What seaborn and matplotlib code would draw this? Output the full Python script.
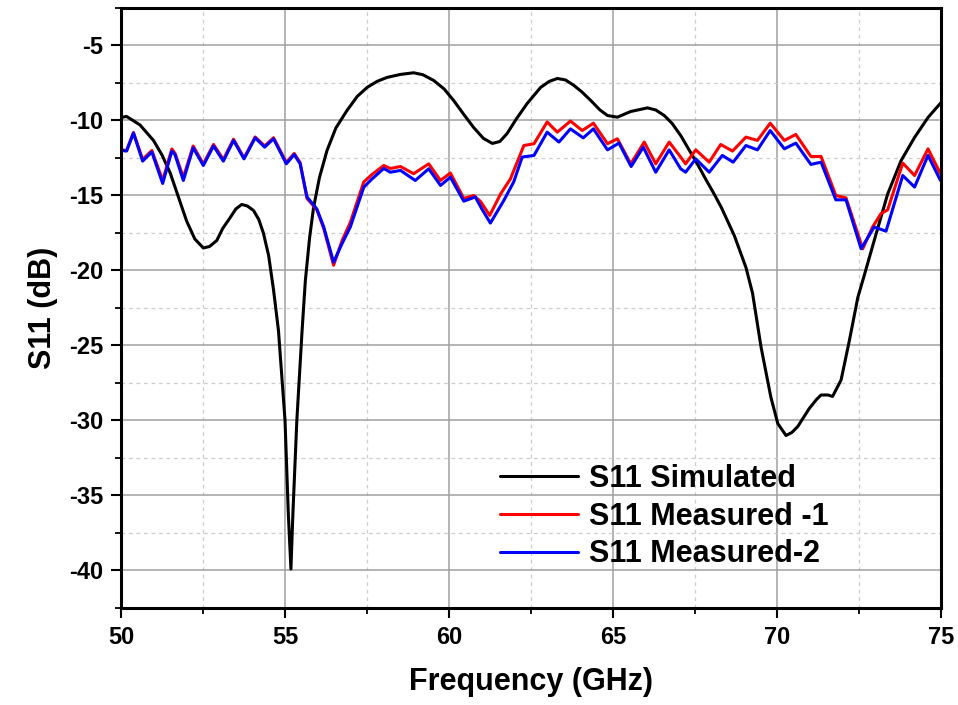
import numpy as np
import matplotlib
matplotlib.use("Agg")
import matplotlib.pyplot as plt
from matplotlib.ticker import MultipleLocator
import pandas as pd
import seaborn as sns

# simulated S11 (GHz, dB)
freq_sim = [50.0, 50.17, 50.58, 50.99, 51.25, 51.5, 51.75, 52.0, 52.25, 52.51, 52.7, 52.92,
            53.1, 53.33, 53.5, 53.68, 53.85, 54.04, 54.2, 54.34, 54.5, 54.65, 54.8, 55.0,
            55.1, 55.18, 55.24, 55.36, 55.52, 55.62, 55.75, 55.87, 56.05, 56.28, 56.55, 56.89,
            57.2, 57.5, 57.8, 58.11, 58.52, 58.92, 59.2, 59.53, 59.85, 60.14, 60.45, 60.75,
            61.05, 61.32, 61.55, 61.77, 62.05, 62.38, 62.79, 63.05, 63.3, 63.55, 63.81, 64.05,
            64.32, 64.6, 64.83, 65.13, 65.54, 66.05, 66.3, 66.56, 66.8, 67.06, 67.3, 67.57,
            67.82, 68.08, 68.3, 68.49, 68.7, 68.9, 69.05, 69.25, 69.51, 69.81, 70.02, 70.27,
            70.45, 70.63, 70.98, 71.2, 71.34, 71.55, 71.69, 71.95, 72.2, 72.46, 72.66, 72.96,
            73.37, 73.78, 74.19, 74.6, 75.0]
s11_sim = [-9.8, -9.73, -10.3, -11.33, -12.3, -13.5, -15.1, -16.7, -17.9, -18.5, -18.4, -18.0,
           -17.2, -16.47, -15.9, -15.6, -15.7, -16.0, -16.6, -17.5, -19.0, -21.3, -24.0, -30.0,
           -36.2, -39.9, -36.2, -30.0, -24.0, -20.67, -17.8, -15.8, -13.8, -12.0, -10.5, -9.33,
           -8.4, -7.8, -7.4, -7.13, -6.93, -6.82, -6.95, -7.33, -7.9, -8.67, -9.6, -10.47,
           -11.2, -11.53, -11.4, -10.87, -9.9, -8.87, -7.8, -7.4, -7.2, -7.3, -7.67, -8.1,
           -8.67, -9.3, -9.67, -9.78, -9.4, -9.16, -9.3, -9.67, -10.2, -11.0, -11.9, -12.9,
           -13.9, -14.9, -15.8, -16.7, -17.7, -18.9, -19.8, -21.5, -25.1, -28.45, -30.2, -31.0,
           -30.8, -30.4, -29.2, -28.6, -28.3, -28.3, -28.4, -27.3, -24.7, -21.8, -20.3, -18.0,
           -14.9, -12.67, -11.13, -9.8, -8.8]

# measured -1 (red)
freq_m1 = [50.0, 50.17, 50.38, 50.66, 50.94, 51.27, 51.55, 51.65, 51.9, 52.2, 52.51, 52.82,
           53.12, 53.43, 53.75, 54.09, 54.38, 54.65, 55.04, 55.28, 55.46, 55.67, 55.97, 56.18,
           56.48, 56.74, 56.99, 57.4, 57.65, 58.01, 58.21, 58.52, 58.92, 59.38, 59.74, 60.04,
           60.45, 60.75, 60.96, 61.24, 61.57, 61.87, 62.28, 62.59, 62.99, 63.3, 63.7, 64.06,
           64.4, 64.83, 65.13, 65.54, 65.95, 66.3, 66.71, 67.06, 67.21, 67.52, 67.93, 68.28,
           68.64, 69.05, 69.4, 69.79, 70.22, 70.57, 71.03, 71.34, 71.79, 72.1, 72.61, 72.91,
           73.17, 73.37, 73.83, 74.19, 74.6, 74.98]
s11_m1 = [-11.95, -12.0, -10.8, -12.6, -12.0, -14.0, -11.9, -12.2, -13.8, -11.7, -12.9, -11.6,
          -12.6, -11.25, -12.5, -11.1, -11.7, -11.15, -12.8, -12.2, -12.8, -15.2, -15.95, -17.2,
          -19.65, -18.0, -16.8, -14.1, -13.6, -13.0, -13.2, -13.07, -13.55, -12.89, -14.0, -13.5,
          -15.2, -15.0, -15.4, -16.33, -14.9, -13.9, -11.67, -11.55, -10.1, -10.78, -10.04, -10.67,
          -10.18, -11.55, -11.22, -12.89, -11.44, -12.89, -11.44, -12.44, -12.89, -11.96, -12.78, -11.6,
          -12.04, -11.11, -11.33, -10.18, -11.33, -10.93, -12.4, -12.4, -15.0, -15.16, -18.55, -17.1,
          -16.2, -15.96, -12.84, -13.67, -11.89, -13.55]

# measured -2 (blue)
freq_m2 = [50.0, 50.17, 50.38, 50.66, 50.94, 51.27, 51.55, 51.65, 51.9, 52.2, 52.51, 52.82,
           53.12, 53.43, 53.75, 54.09, 54.38, 54.65, 55.04, 55.28, 55.46, 55.67, 55.97, 56.18,
           56.48, 56.74, 56.99, 57.4, 57.65, 58.01, 58.21, 58.52, 58.97, 59.38, 59.74, 60.04,
           60.45, 60.8, 61.0, 61.26, 61.67, 61.97, 62.23, 62.59, 62.99, 63.35, 63.7, 64.09,
           64.4, 64.83, 65.18, 65.55, 65.92, 66.3, 66.71, 67.06, 67.21, 67.52, 67.93, 68.33,
           68.66, 69.05, 69.4, 69.79, 70.22, 70.57, 71.03, 71.34, 71.79, 72.1, 72.56, 72.96,
           73.32, 73.83, 74.19, 74.6, 74.98]
s11_m2 = [-12.0, -12.04, -10.84, -12.71, -12.1, -14.2, -12.04, -12.3, -14.0, -11.82, -13.0, -11.7,
          -12.71, -11.33, -12.56, -11.16, -11.78, -11.22, -12.89, -12.27, -12.89, -15.1, -15.9, -17.1,
          -19.45, -18.2, -17.1, -14.45, -13.9, -13.2, -13.45, -13.33, -14.0, -13.22, -14.33, -13.78,
          -15.38, -15.1, -15.9, -16.84, -15.33, -14.1, -12.44, -12.33, -10.78, -11.44, -10.56, -11.16,
          -10.56, -11.96, -11.51, -13.07, -11.78, -13.45, -11.96, -13.22, -13.45, -12.56, -13.45, -12.33,
          -12.78, -11.67, -11.96, -10.67, -11.89, -11.51, -12.93, -12.78, -15.29, -15.29, -18.55, -17.1,
          -17.38, -13.67, -14.44, -12.33, -14.0]

labels = ["S11 Simulated", "S11 Measured -1", "S11 Measured-2"]
colors = ["black", "red", "blue"]

sns.set_style("white")
plt.rcParams["font.family"] = ["Liberation Sans", "DejaVu Sans"]
plt.rcParams["font.weight"] = "bold"
plt.rcParams["axes.unicode_minus"] = False
plt.rcParams["text.color"] = "black"
plt.rcParams["axes.labelcolor"] = "black"
plt.rcParams["xtick.color"] = "black"
plt.rcParams["ytick.color"] = "black"

fig = plt.figure(figsize=(9.58, 7.05), dpi=100)
ax = fig.add_axes([0.1263, 0.1376, 0.8561, 0.8511])

series = [(freq_sim, s11_sim), (freq_m1, s11_m1), (freq_m2, s11_m2)]
for (f, s), lab, c in zip(series, labels, colors):
    sns.lineplot(x=f, y=s, ax=ax, color=c, linewidth=2.2, label=lab, sort=False)

ax.set_xlim(50, 75)
ax.set_ylim(-42.5, -2.5)
ax.xaxis.set_major_locator(MultipleLocator(5))
ax.xaxis.set_minor_locator(MultipleLocator(2.5))
ax.yaxis.set_major_locator(MultipleLocator(5))
ax.yaxis.set_minor_locator(MultipleLocator(2.5))

ax.set_axisbelow(True)
ax.grid(which="major", color="#a0a0a0", linewidth=1.1, linestyle="-")
ax.grid(which="minor", color="#cccccc", linewidth=0.9, linestyle=(0, (3, 3)))

ax.tick_params(which="major", direction="out", length=7, width=1.5, labelsize=17,
               colors="black", bottom=True, left=True, top=False, right=False, pad=6)
ax.tick_params(which="minor", direction="out", length=4, width=1.3, colors="black",
               bottom=True, left=True, top=False, right=False)
for lab in ax.get_xticklabels() + ax.get_yticklabels():
    lab.set_fontweight("bold")

for sp in ax.spines.values():
    sp.set_visible(True)
    sp.set_color("black")
    sp.set_linewidth(2.2)

ax.set_xlabel("Frequency (GHz)", fontsize=22, fontweight="bold", labelpad=13, color="black")
ax.set_ylabel("S11 (dB)", fontsize=22, fontweight="bold", labelpad=8, color="black")

leg = ax.legend(loc="center left", bbox_to_anchor=(0.462, 0.152), frameon=False,
                fontsize=22, handlelength=2.55, handletextpad=0.35, labelspacing=0.25,
                borderpad=0, borderaxespad=0)
for t in leg.get_texts():
    t.set_fontweight("bold")
    t.set_color("black")
for h in leg.get_lines():
    h.set_linewidth(2.2)

fig.savefig("out.png", dpi=100)
